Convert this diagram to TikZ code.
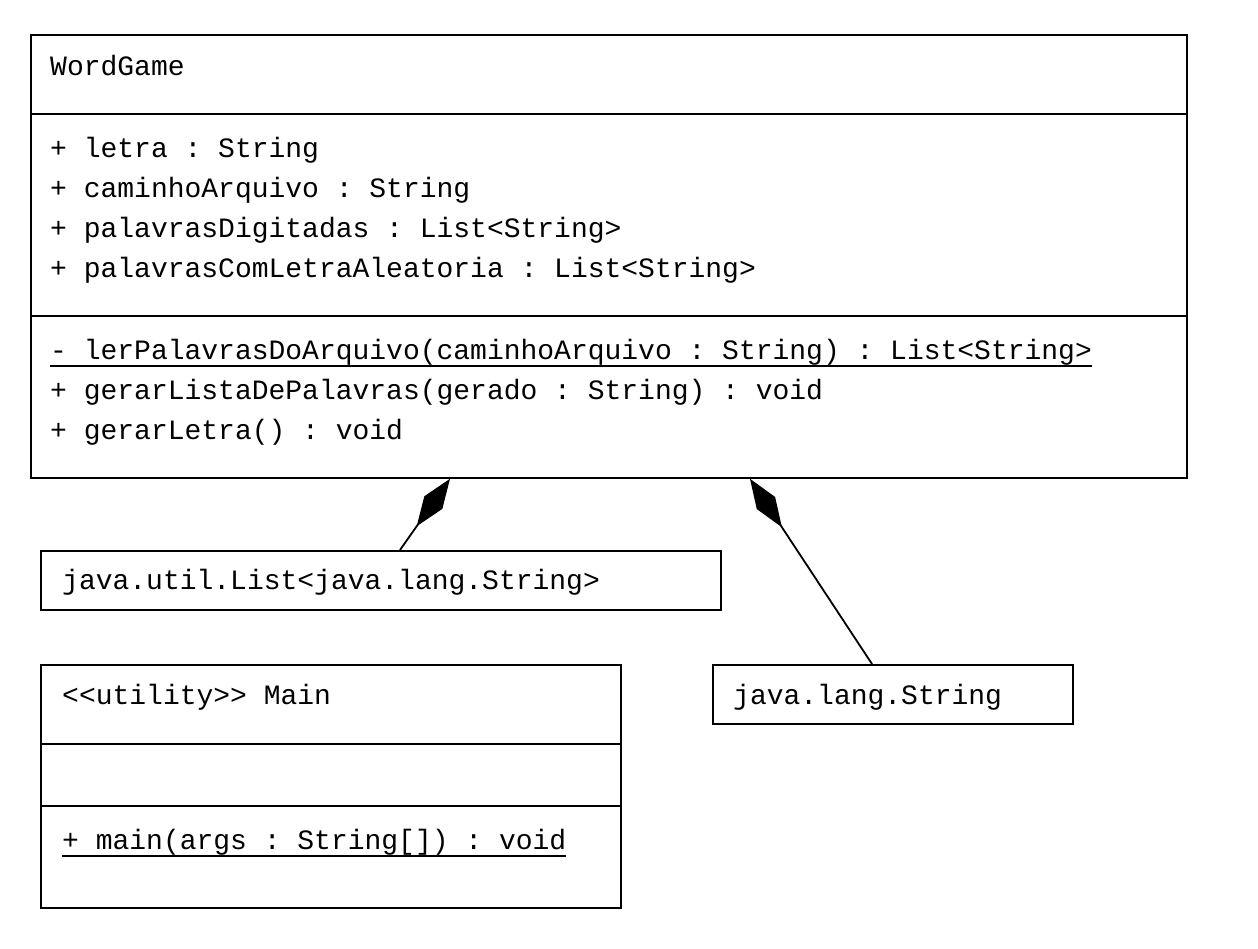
\documentclass[tikz,border=0pt]{standalone}
\usepackage{fontspec}
\setmonofont{Liberation Mono}
\usetikzlibrary{arrows.meta}
\begin{document}
\begin{tikzpicture}[x=1pt,y=-1pt,
  txt/.style={anchor=base west, inner sep=0pt, font=\ttfamily\fontsize{28}{30}\selectfont},
  box/.style={draw, line width=1.8pt, anchor=north west, inner sep=0pt},
  sep/.style={line width=1.8pt},
  uline/.style={line width=1.3pt},
  comp/.style={-{Diamond[length=58pt,width=22pt]}, line width=1.8pt}]
\useasboundingbox (0,0) rectangle (1258,948);
% WordGame
\node[box, minimum width=1156pt, minimum height=443pt] (wg) at (30,34) {};
\draw[sep] ([yshift=-80pt]wg.north west) -- ([yshift=-80pt]wg.north east);
\draw[sep] ([yshift=-282pt]wg.north west) -- ([yshift=-282pt]wg.north east);
\node[txt] (wgn) at (50,75) {WordGame};
\node[txt] (a1) at (50,157) {+ letra : String};
\node[txt] (a2) at (50,197) {+ caminhoArquivo : String};
\node[txt] (a3) at (50,237) {+ palavrasDigitadas : List<String>};
\node[txt] (a4) at (50,277) {+ palavrasComLetraAleatoria : List<String>};
\node[txt] (m1) at (50,359) {- lerPalavrasDoArquivo(caminhoArquivo : String) : List<String>};
\draw[uline] ([yshift=-7pt]m1.base west) -- ([yshift=-7pt]m1.base east);
\node[txt] (m2) at (50,399) {+ gerarListaDePalavras(gerado : String) : void};
\node[txt] (m3) at (50,439) {+ gerarLetra() : void};
% List
\node[box, minimum width=680pt, minimum height=59pt] (lst) at (40,550) {};
\node[txt] (lstn) at (62,589) {java.util.List<java.lang.String>};
% Main
\node[box, minimum width=580pt, minimum height=243pt] (mn) at (40,664) {};
\draw[sep] ([yshift=-80pt]mn.north west) -- ([yshift=-80pt]mn.north east);
\draw[sep] ([yshift=-142pt]mn.north west) -- ([yshift=-142pt]mn.north east);
\node[txt] (mnn) at (62,704) {<{}<utility>{}> Main};
\node[txt] (mm) at (62,849) {+ main(args : String[]) : void};
\draw[uline] ([yshift=-7pt]mm.base west) -- ([yshift=-7pt]mm.base east);
% String
\node[box, minimum width=360pt, minimum height=59pt] (str) at (712,664) {};
\node[txt] (strn) at (733,704) {java.lang.String};
% connectors
\draw[comp] ([xshift=360pt]lst.north west) -- ([xshift=420pt]wg.south west);
\draw[comp] ([xshift=160pt]str.north west) -- ([xshift=720pt]wg.south west);
\end{tikzpicture}
\end{document}
